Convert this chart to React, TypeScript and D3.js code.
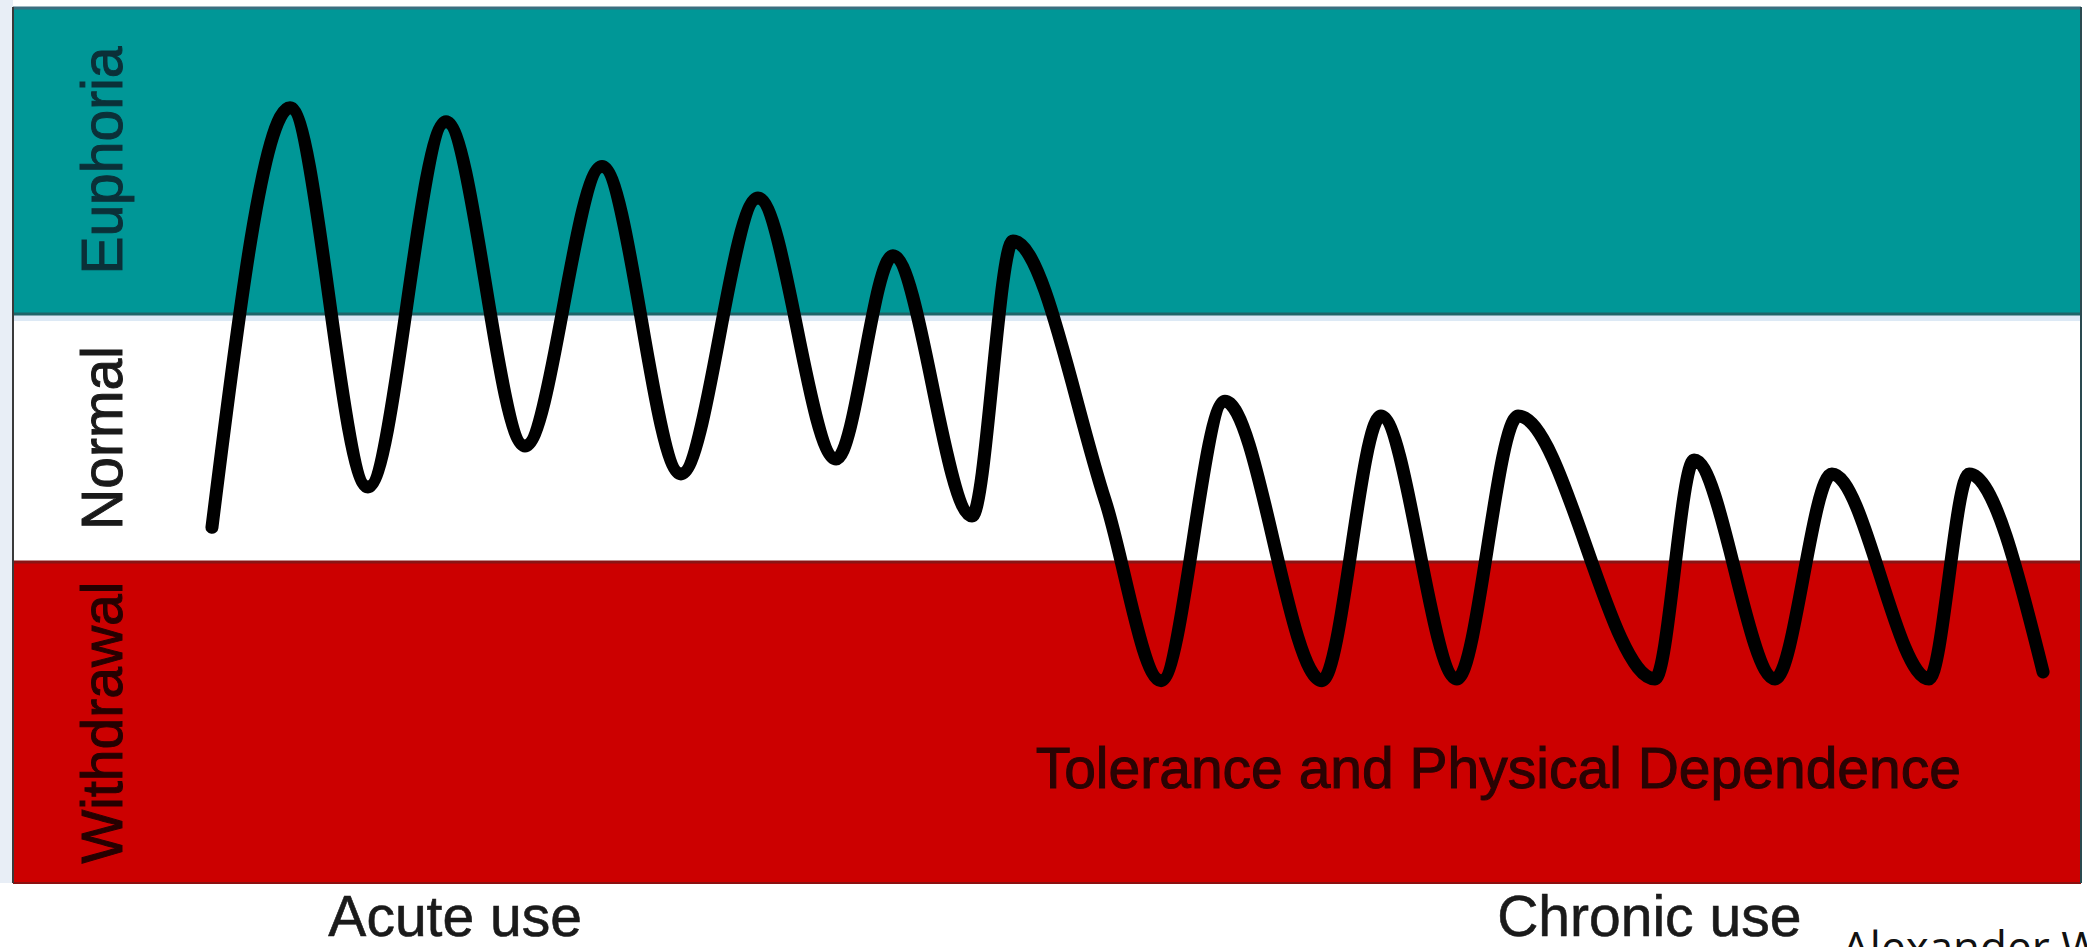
import React from "react";
import * as d3 from "d3";

// ---- Data ----
// Time axis: arbitrary 0–100 units; level axis: 0 (deep withdrawal) – 100 (peak euphoria)
const time = [9.63, 13.41, 17.18, 20.96, 24.78, 28.51, 32.33, 36.06, 39.84, 42.59, 46.42, 48.4, 52.86, 55.57, 58.66, 63.36, 66.21, 69.89, 72.85, 79.48, 81.37, 85.29, 88.04, 92.74, 94.68, 98.26];
const level = [40.6, 88.5, 45.2, 86.9, 49.9, 81.8, 46.7, 78.2, 48.4, 71.6, 41.9, 73.3, 43.7, 23.1, 55.0, 23.1, 53.3, 23.3, 53.3, 23.3, 48.3, 23.3, 46.7, 23.3, 46.7, 24.1];

const bandNames = ["Euphoria", "Normal", "Withdrawal"];
const bandLow = [64.95, 36.64, 0];
const bandHigh = [100, 64.95, 36.64];
const bandColors = ["#009797", "#ffffff", "#cc0000"];
const bandTextColors = ["#0b3038", "#1a1a1a", "#260000"];

const phaseLabels = ["Acute use", "Chronic use"];
const phaseTime = [21.4, 79.2];

const annotation = "Tolerance and Physical Dependence";
const annotationTime = 49.5;
const credit = "Alexander W";

// ---- Layout ----
const W = 2087;
const H = 947;
const left = 13;
const right = 2079;
const top = 7;
const bottom = 883;

export default function App() {
  const x = d3.scaleLinear().domain([0, 100]).range([left, right]);
  const y = d3.scaleLinear().domain([0, 100]).range([bottom, top]);

  const pts: [number, number][] = time.map((t, i) => [t, level[i]]);
  const line = d3
    .line<[number, number]>()
    .x((d) => x(d[0]))
    .y((d) => y(d[1]))
    .curve(d3.curveMonotoneX);

  const font = "'Liberation Sans', Arial, Helvetica, sans-serif";
  const x0 = x(0);
  const x1 = x(100) + 2;

  return (
    <svg
      width={W}
      height={H}
      style={{ position: "absolute", left: 0, top: 0, display: "block", background: "#ffffff" }}
    >
      {/* faint left strip */}
      <rect x={0} y={0} width={x0} height={bottom} fill="#e8eef6" />
      {bandNames.map((name, i) => (
        <rect
          key={name}
          x={x0}
          y={y(bandHigh[i])}
          width={x1 - x0}
          height={y(bandLow[i]) - y(bandHigh[i])}
          fill={bandColors[i]}
        />
      ))}
      {/* band edges */}
      <line x1={x0} x2={x1} y1={y(100) + 1} y2={y(100) + 1} stroke="#3b6f80" strokeWidth={3} />
      <rect x={x0} y={y(bandLow[0]) + 1} width={x1 - x0} height={6} fill="#dde9f5" />
      <line x1={x0} x2={x1} y1={y(bandLow[0])} y2={y(bandLow[0])} stroke="#1f6468" strokeWidth={3} />
      <line x1={x0} x2={x1} y1={y(bandHigh[2])} y2={y(bandHigh[2])} stroke="#8a1515" strokeWidth={3} />
      <line x1={x0} x2={x1} y1={y(0)} y2={y(0)} stroke="#8a1010" strokeWidth={2} />
      <line x1={x0} x2={x0} y1={y(100)} y2={y(0)} stroke="#3a3a3a" strokeWidth={2} />
      <line x1={x1} x2={x1} y1={y(100)} y2={y(0)} stroke="#2a4a50" strokeWidth={2} />

      {/* band labels */}
      {bandNames.map((name, i) => {
        const cy = (y(bandLow[i]) + y(bandHigh[i])) / 2;
        return (
          <text
            key={name}
            transform={`translate(122,${cy}) rotate(-90)`}
            textAnchor="middle"
            fontFamily={font}
            fontSize={57}
            fill={bandTextColors[i]}
            stroke={bandTextColors[i]}
            strokeWidth={1}
          >
            {name}
          </text>
        );
      })}

      {/* curve */}
      <path d={line(pts) || ""} fill="none" stroke="#000000" strokeWidth={13} strokeLinecap="round" strokeLinejoin="round" />

      {/* annotation */}
      <text
        x={x(annotationTime)}
        y={788}
        fontFamily={font}
        fontSize={57}
        fill="#2a0303"
        stroke="#2a0303"
        strokeWidth={1}
      >
        {annotation}
      </text>

      {/* phase labels */}
      {phaseLabels.map((p, i) => (
        <text
          key={p}
          x={x(phaseTime[i])}
          y={936}
          textAnchor="middle"
          fontFamily={font}
          fontSize={57}
          fill="#1a1a1a"
          stroke="#1a1a1a"
          strokeWidth={0.6}
        >
          {p}
        </text>
      ))}

      <text x={1842} y={963} fontFamily="'Open Sans', 'Noto Sans', sans-serif" fontSize={44} fill="#111111">
        {credit}
      </text>
    </svg>
  );
}
